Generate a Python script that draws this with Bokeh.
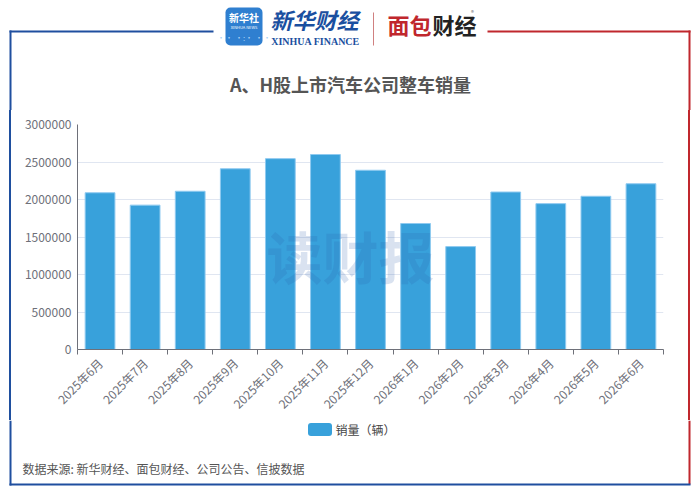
import math
from bokeh.plotting import figure
from bokeh.layouts import column, row
from bokeh.models import (Range1d, FixedTicker, BasicTickFormatter, Label,
                          BoxAnnotation, Spacer)
from bokeh.embed import file_html
from bokeh.resources import INLINE

# ---------------- data ----------------
months = ["2025年6月", "2025年7月", "2025年8月", "2025年9月", "2025年10月",
          "2025年11月", "2025年12月", "2026年1月", "2026年2月", "2026年3月",
          "2026年4月", "2026年5月", "2026年6月"]
sales = [2090000, 1925000, 2110000, 2410000, 2545000, 2600000, 2390000,
         1680000, 1372000, 2100000, 1945000, 2043000, 2210000]
y_ticks = [0, 500000, 1000000, 1500000, 2000000, 2500000, 3000000]
series_name = "销量（辆）"
title_text = "A、H股上市汽车公司整车销量"
source_text = "数据来源: 新华财经、面包财经、公司公告、信披数据"

FONT = "Noto Sans CJK SC"
BAR = "#38a1db"
BAR_EDGE = "#8fcaf0"
BLUE = "#1f4f9f"
RED = "#c0272d"

W, H = 700, 495
HEAD_H = 110      # header strip: page y 0..110
MID_B = 420       # chart row: page y 110..420
MID_H = MID_B - HEAD_H
CHART_X0 = 20     # chart figure: page x 20..680
CHART_X1 = 680


def blank(width, height, x0, x1, y0, y1):
    f = figure(width=width, height=height, output_backend="svg",
               toolbar_location=None, x_axis_type=None, y_axis_type=None,
               x_range=Range1d(x0, x1), y_range=Range1d(y1, y0),
               min_border=0)
    f.outline_line_color = None
    f.grid.visible = False
    f.background_fill_color = "white"
    f.border_fill_color = "white"
    return f


def box(f, x0, y0, x1, y1, color, alpha=1.0, radius=0):
    b = BoxAnnotation(left=x0, right=x1, top=y0, bottom=y1,
                      fill_color=color, fill_alpha=alpha, line_color=None,
                      level="overlay")
    if radius:
        b.border_radius = radius
    f.add_layout(b)


def label(f, X, Y, text, size, color, align="left", style="normal",
          font=FONT, alpha=1.0):
    f.add_layout(Label(x=X, y=Y, text=text, text_font=font,
                       text_font_size=f"{size}px", text_color=color,
                       text_align=align, text_baseline="middle",
                       text_font_style=style, text_alpha=alpha,
                       level="overlay"))


# ---------------- header ----------------
head = blank(W, HEAD_H, 0, W, 0, HEAD_H)
box(head, 9, 30, 213, 32, BLUE)
box(head, 9, 30, 11, HEAD_H, BLUE)
box(head, 487, 30, 690, 32, RED)
box(head, 688, 30, 690, HEAD_H, RED)
# logos
box(head, 225, 7, 262, 45, "#2f7fd0", radius=5)
label(head, 243.5, 17, "新华社", 10, "white", align="center", style="bold")
label(head, 243.5, 26, "XINHUA NEWS", 4, "white", align="center")
label(head, 243.5, 37, "·· ·:· ··", 8, "#a8d0f5", align="center")
label(head, 314, 18, "新华财经", 22, "#1a4fa0", align="center", style="bold italic")
label(head, 315, 41, "XINHUA FINANCE", 10, "#1a4fa0", align="center",
      style="bold", font="Liberation Serif")
box(head, 372.5, 12, 373.5, 45, "#d08080")
label(head, 409, 23, "面包", 22, RED, align="center", style="bold")
label(head, 454, 23, "财经", 22, "#222222", align="center", style="bold")
label(head, 472, 12, "®", 6, "#666666", align="center")
# title
label(head, 350, 83, title_text, 18, "#555555", align="center", style="bold")


# ---------------- side border pieces (page x 9..11 and 688..690) ----------------
def gap(w):
    return Spacer(width=w, height=MID_H)


def vline(color):
    return Spacer(width=2, height=MID_H, styles={"background-color": color})


# ---------------- chart ----------------
p = figure(width=CHART_X1 - CHART_X0, height=MID_H,
           output_backend="svg", toolbar_location=None,
           x_range=Range1d(-0.5, len(months) - 0.5),
           y_range=Range1d(0, 3000000),
           min_border_left=77 - CHART_X0, min_border_right=CHART_X1 - 663,
           min_border_top=124 - HEAD_H, min_border_bottom=MID_B - 351)
p.outline_line_color = None
p.background_fill_color = "white"
p.border_fill_color = "white"

idx = list(range(len(months)))
bars = p.vbar(x=idx, top=sales, width=0.66, bottom=0,
              fill_color=BAR, line_color=BAR_EDGE, line_width=1)

xa = p.xaxis[0]
xa.ticker = FixedTicker(ticks=idx,
                        minor_ticks=[i - 0.5 for i in range(len(months) + 1)])
xa.major_label_overrides = {i: m for i, m in enumerate(months)}
xa.major_label_orientation = math.pi / 4
xa.major_tick_out = 0
xa.major_tick_in = 0
xa.minor_tick_out = 5
xa.minor_tick_in = 0
xa.minor_tick_line_color = "#6e7079"
xa.axis_line_color = "#6e7079"
xa.major_label_text_font = FONT
xa.major_label_text_font_size = "12px"
xa.major_label_text_color = "#6e7079"
xa.major_label_standoff = 6

ya = p.yaxis[0]
ya.ticker = FixedTicker(ticks=y_ticks)
ya.formatter = BasicTickFormatter(use_scientific=False)
ya.major_tick_out = 0
ya.major_tick_in = 0
ya.minor_tick_out = 0
ya.minor_tick_in = 0
ya.axis_line_color = "#6e7079"
ya.major_label_text_font = FONT
ya.major_label_text_font_size = "12px"
ya.major_label_text_color = "#6e7079"
ya.major_label_standoff = 6

p.xgrid.visible = False
p.ygrid.grid_line_color = "#e0e6f1"
p.ygrid.ticker = FixedTicker(ticks=y_ticks)

# watermark (frame bottom-left is page (77, 351))
p.add_layout(Label(x=350 - 77, y=351 - 256, x_units="screen", y_units="screen",
                   text="读财报", text_font=FONT, text_font_size="56px",
                   text_font_style="bold", text_color="#2a5caa",
                   text_alpha=0.18, text_align="center",
                   text_baseline="middle", level="overlay"))

# ---------------- footer ----------------
foot = blank(W, H - MID_B, 0, W, MID_B, H)
box(foot, 9, MID_B, 11, 485, BLUE)
box(foot, 688, MID_B, 690, 484, RED)
box(foot, 9, 483, 690, 485, BLUE)
label(foot, 22, 468, source_text, 12, "#555555")
# legend: swatch + label
box(foot, 307.5, 422.5, 331.5, 435.5, BAR, radius=3)
label(foot, 335, 429, series_name, 12, "#444444")

middle = row(gap(9), vline(BLUE), gap(9), p, gap(8), vline(RED), gap(10))
layout = column(head, middle, foot)
open("out.html", "w").write(file_html(layout, INLINE))
